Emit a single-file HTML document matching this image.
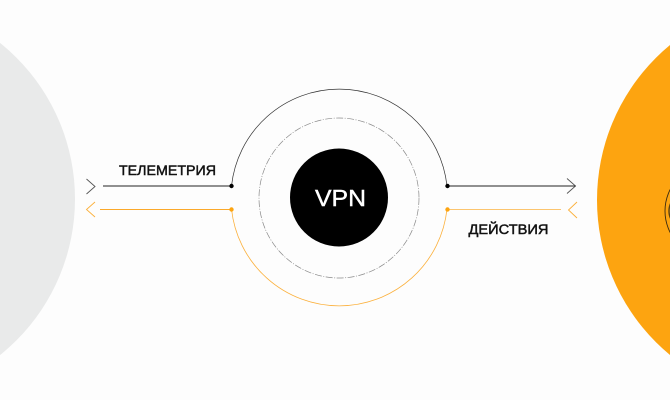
<!DOCTYPE html>
<html><head><meta charset="utf-8"><style>
html,body{margin:0;padding:0;background:#fdfdfd}
svg{display:block}
text{font-family:"Liberation Sans",sans-serif}
</style></head><body>
<svg width="670" height="400" viewBox="0 0 670 400" xmlns="http://www.w3.org/2000/svg">
<rect width="670" height="400" fill="#fdfdfd"/>
<circle cx="-125" cy="199" r="200" fill="#e9eaea"/>
<circle cx="798" cy="200" r="201" fill="#fda410"/>
<circle cx="712" cy="211" r="47" fill="none" stroke="#3a2a10" stroke-width="0.9"/>
<circle cx="687" cy="211" r="18" fill="none" stroke="#5a4010" stroke-width="1.4"/>
<path d="M231.500 186A108.360 108.360 0 0 1 447 186" fill="none" stroke="#333" stroke-width="0.7"/>
<path d="M231.500 209A108.360 108.360 0 0 0 447 209" fill="none" stroke="#fbb03b" stroke-width="0.8"/>
<circle cx="339" cy="198" r="80" fill="none" stroke="#8a8a8a" stroke-width="0.7" stroke-dasharray="7 1.500 1 1.500"/>
<circle cx="339" cy="197.500" r="49" fill="#000"/>
<text x="340.500" y="206" font-size="23" fill="#fff" stroke="#fff" stroke-width="0.4" text-anchor="middle" textLength="51" lengthAdjust="spacingAndGlyphs">VPN</text>
<path d="M103 186H231M447 186H576" stroke="#222" stroke-width="0.9" fill="none"/>
<path d="M100 209.500H231" stroke="#fba92a" stroke-width="1" fill="none"/>
<path d="M447 209.500H561" stroke="#fcc56e" stroke-width="0.9" fill="none"/>
<path d="M86.500 179 95 186.500 86.500 194M567 178.500 575.500 186 567 193.500" stroke="#555" stroke-width="0.9" fill="none"/>
<path d="M95 202 86.500 209.500 95 217M577 202 568.500 210 577 218" stroke="#fbb03b" stroke-width="0.9" fill="none"/>
<circle cx="231.500" cy="186" r="2.200" fill="#000"/>
<circle cx="447.500" cy="186" r="2.200" fill="#000"/>
<circle cx="231.500" cy="209.500" r="2.200" fill="#fda410"/>
<circle cx="447.500" cy="209.500" r="2.200" fill="#fda410"/>
<text x="167.500" y="175" font-size="13.500" fill="#111" stroke="#111" stroke-width="0.45" text-anchor="middle" textLength="97" lengthAdjust="spacingAndGlyphs">ТЕЛЕМЕТРИЯ</text>
<text x="508.500" y="234" font-size="13.500" fill="#111" stroke="#111" stroke-width="0.45" text-anchor="middle" textLength="80" lengthAdjust="spacingAndGlyphs">ДЕЙСТВИЯ</text>
</svg>
</body></html>
